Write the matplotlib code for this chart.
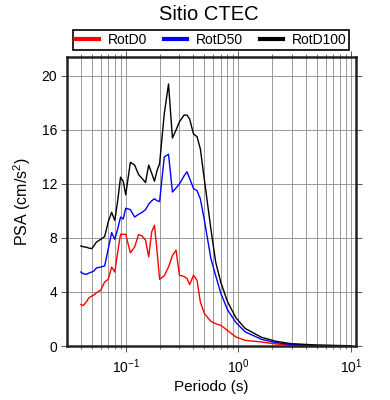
import matplotlib
matplotlib.use("Agg")
import matplotlib.pyplot as plt
from matplotlib.ticker import LogLocator, FixedLocator, NullFormatter, LogFormatterSciNotation

plt.rcParams['font.family'] = ['Liberation Sans', 'DejaVu Sans']
plt.rcParams['mathtext.default'] = 'regular'

periods = [0.040, 0.042, 0.045, 0.047, 0.050, 0.052, 0.055, 0.060, 0.065, 0.070,
           0.075, 0.080, 0.085, 0.090, 0.095, 0.10, 0.11, 0.12, 0.13, 0.14,
           0.15, 0.16, 0.17, 0.18, 0.19, 0.20, 0.22, 0.24, 0.26, 0.28,
           0.30, 0.33, 0.35, 0.37, 0.40, 0.43, 0.46, 0.50, 0.57, 0.63,
           0.70, 0.80, 0.95, 1.15, 1.6, 2.15, 2.9, 5.0, 10.0]

rotd0 = [3.07, 3.00, 3.30, 3.56, 3.70, 3.76, 3.95, 4.13, 4.74, 4.94,
         5.85, 5.48, 7.00, 8.27, 8.27, 8.27, 6.90, 7.33, 8.25, 8.15,
         7.83, 6.60, 8.44, 8.94, 7.00, 4.94, 5.20, 5.85, 6.70, 7.10,
         5.24, 5.15, 5.00, 4.55, 5.24, 4.87, 3.26, 2.40, 1.83, 1.65,
         1.53, 1.16, 0.67, 0.42, 0.30, 0.15, 0.08, 0.03, 0.01]

rotd50 = [5.48, 5.35, 5.31, 5.40, 5.48, 5.55, 5.78, 5.85, 5.93, 7.20,
          8.40, 7.90, 8.70, 9.55, 9.40, 10.2, 10.1, 9.55, 9.75, 9.90,
          10.1, 10.5, 10.75, 10.9, 10.75, 10.7, 14.0, 14.2, 11.4, 11.7,
          12.0, 12.6, 12.9, 12.4, 11.66, 11.5, 10.9, 9.30, 6.50, 5.20,
          3.90, 2.70, 1.75, 1.05, 0.50, 0.25, 0.12, 0.04, 0.01]

rotd100 = [7.41, 7.35, 7.31, 7.25, 7.21, 7.40, 7.70, 7.90, 8.10, 9.20,
           9.90, 9.30, 10.8, 12.5, 12.2, 11.2, 13.6, 13.4, 12.7, 12.4,
           12.1, 13.4, 12.8, 12.2, 13.0, 13.5, 17.2, 19.4, 15.4, 16.0,
           16.6, 17.1, 17.1, 16.8, 15.7, 15.5, 14.6, 12.3, 8.70, 6.20,
           4.70, 3.30, 2.10, 1.30, 0.65, 0.35, 0.18, 0.07, 0.02]

series_names = ["RotD0", "RotD50", "RotD100"]
series_colors = ["red", "blue", "black"]
yticks = [0, 4, 8, 12, 16, 20]

fig = plt.figure(figsize=(3.9, 4.0), dpi=100)
ax = fig.add_axes([67/390, 1-346/400, (356-67)/390, (346-57)/400])

for vals, name, col in zip([rotd0, rotd50, rotd100], series_names, series_colors):
    ax.plot(periods, vals, color=col, lw=1.0, label=name)

ax.set_xscale('log')
ax.set_xlim(0.0301, 11.1)
ax.set_ylim(0, 21.4)

ax.xaxis.set_major_locator(LogLocator(base=10, numticks=10))
ax.xaxis.set_minor_locator(LogLocator(base=10, subs=range(2, 10), numticks=20))
ax.xaxis.set_major_formatter(LogFormatterSciNotation())
ax.xaxis.set_minor_formatter(NullFormatter())
ax.yaxis.set_major_locator(FixedLocator(yticks))

ax.grid(True, which='major', axis='both', color='#8c8c8c', lw=0.6)
ax.grid(True, which='minor', axis='x', color='#8c8c8c', lw=0.6)
ax.set_axisbelow(True)

for s in ax.spines.values():
    s.set_linewidth(1.8)
    s.set_color('#222222')

ax.tick_params(axis='both', which='both', direction='out', top=True, right=True,
               color='#555555', labelsize=10)
ax.tick_params(axis='x', which='major', length=4, width=0.7, pad=4)
ax.tick_params(axis='x', which='minor', length=2.5, width=0.6)
ax.tick_params(axis='y', which='major', length=4, width=0.7, pad=3)

ax.set_xlabel("Periodo (s)", fontsize=11, labelpad=3)
ax.set_ylabel("PSA (cm/s$^2$)", fontsize=11.5, labelpad=6)

fig.text(0.535, 1-14.5/400, "Sitio CTEC", ha='center', va='center', fontsize=14.5)

leg = fig.legend(loc='lower left',
                 bbox_to_anchor=(72.7/390, 1-50/400, (349.3-72.7)/390, (50-31.7)/400),
                 mode='expand', ncol=3, borderaxespad=0, fancybox=False,
                 edgecolor='black', framealpha=1, fontsize=10, handlelength=1.7,
                 handletextpad=0.6, borderpad=0.2, columnspacing=1.0)
leg.get_frame().set_linewidth(1.2)
for h in leg.legend_handles:
    h.set_linewidth(3)

fig.savefig("out.png", dpi=100)
